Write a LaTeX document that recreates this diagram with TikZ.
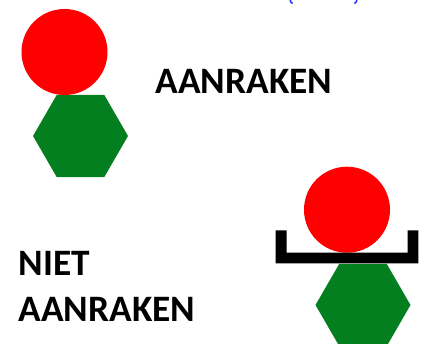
\documentclass[tikz,border=0pt]{standalone}
\usepackage{fontspec}
\setmainfont{Carlito}
\usetikzlibrary{shapes.geometric}
\definecolor{hexgreen}{RGB}{3,127,31}
\definecolor{headred}{RGB}{255,0,0}
\definecolor{parenblue}{RGB}{40,40,255}
\begin{document}
\begin{tikzpicture}[x=1pt,y=-1pt,
  hexbody/.style={regular polygon, regular polygon sides=6, fill=hexgreen, draw=none, inner sep=0pt, minimum size=95pt},
  ball/.style={circle, fill=headred, draw=none, inner sep=0pt, minimum size=86pt},
  word/.style={inner sep=0pt, anchor=base west, font=\fontsize{37.3}{50}\selectfont\bfseries}]
\useasboundingbox (0,0) rectangle (426,343);
% top-left figure
\node[hexbody] (hex1) at (80.5,136) {};
\node[ball] (head1) at (64.5,52) {};
\node[word] (t1) at (155.5,93) {AANRAKEN};
% bottom-right figure
\node[hexbody] (hex2) at (363,305) {};
\node[ball] (head2) at (347,209.7) {};
\fill[black] (275.7,230.3) -- (286.7,230.3) -- (286.7,252.7) -- (407.7,252.7) -- (407.7,230.3) -- (418.3,230.3) -- (418.3,263.3) -- (275.7,263.3) -- cycle;
% bottom-left text
\node[word] (t2) at (18.5,275) {NIET};
\node[word] (t3) at (18.5,321) {AANRAKEN};
% cut-off blue parentheses at top
\draw[parenblue, line width=1.5pt] (290,-1) .. controls (290.5,2) .. (292.5,3.5);
\draw[parenblue, line width=1.5pt] (357,-1) .. controls (356.5,2) .. (354.5,3.5);
\end{tikzpicture}
\end{document}
